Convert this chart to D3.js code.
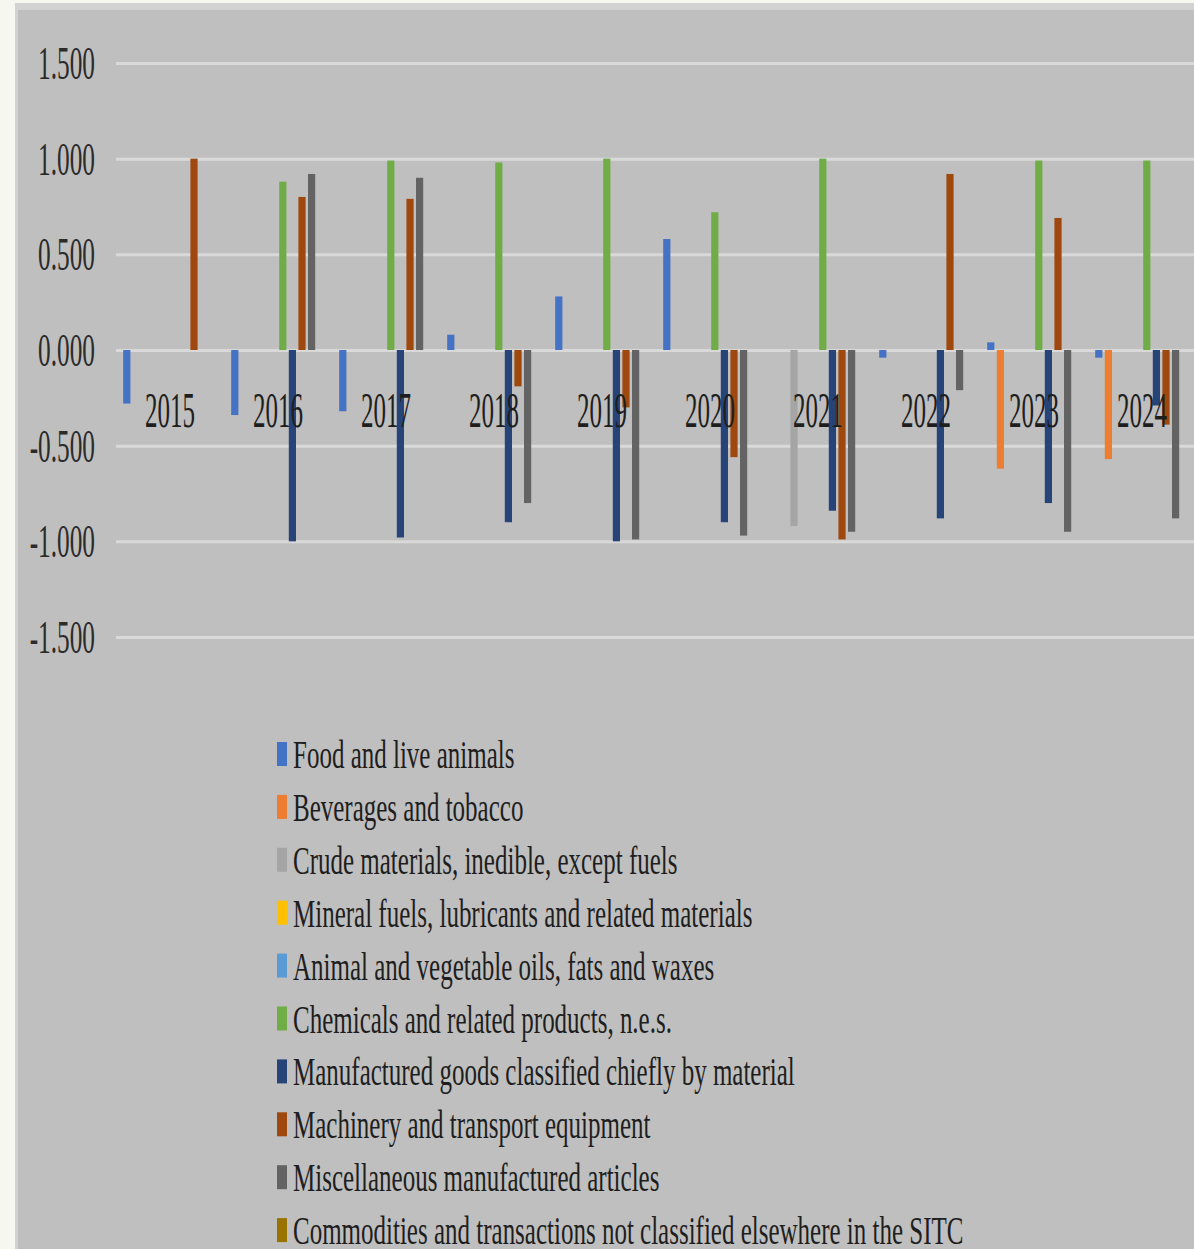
<!DOCTYPE html>
<html>
<head>
<meta charset="utf-8">
<script src="https://cdn.jsdelivr.net/npm/d3@7"></script>
<style>
html,body{margin:0;padding:0;background:#f6f7ee;}
svg{display:block;}
text{font-family:"Liberation Serif","Times New Roman",serif;}
</style>
</head>
<body>
<svg id="chart" width="1194" height="1249"></svg>
<script>
const years = ["2015","2016","2017","2018","2019","2020","2021","2022","2023","2024"];
const seriesNames = [
  "Food and live animals",
  "Beverages and tobacco",
  "Crude materials, inedible, except fuels",
  "Mineral fuels, lubricants and related materials",
  "Animal and vegetable oils, fats and waxes",
  "Chemicals and related products, n.e.s.",
  "Manufactured goods classified chiefly  by material",
  "Machinery and transport equipment",
  "Miscellaneous manufactured articles",
  "Commodities and transactions not classified elsewhere in the SITC"
];
const seriesColors = ["#4472c4","#ed7d31","#a5a5a5","#ffc000","#5b9bd5","#70ad47","#264478","#9e480e","#636363","#997300"];

const food         = [-0.28,-0.34,-0.32, 0.08, 0.28, 0.58, 0.00,-0.04, 0.04,-0.04];
const beverages    = [ 0, 0, 0, 0, 0, 0, 0, 0,-0.62,-0.57];
const crude        = [ 0, 0, 0, 0, 0, 0,-0.92, 0, 0, 0];
const mineral      = [ 0, 0, 0, 0, 0, 0, 0, 0, 0, 0];
const oils         = [ 0, 0, 0, 0, 0, 0, 0, 0, 0, 0];
const chemicals    = [ 0, 0.88, 0.99, 0.98, 1.00, 0.72, 1.00, 0, 0.99, 0.99];
const manufactured = [ 0,-1.00,-0.98,-0.90,-1.00,-0.90,-0.84,-0.88,-0.80,-0.29];
const machinery    = [ 1.00, 0.80, 0.79,-0.19,-0.30,-0.56,-0.99, 0.92, 0.69,-0.39];
const misc         = [ 0, 0.92, 0.90,-0.80,-0.99,-0.97,-0.95,-0.21,-0.95,-0.88];
const commodities  = [ 0, 0, 0, 0, 0, 0, 0, 0, 0, 0];

const yTicks = [-1.5,-1.0,-0.5,0,0.5,1.0,1.5];

const seriesValues = [food,beverages,crude,mineral,oils,chemicals,manufactured,machinery,misc,commodities];
const series = seriesNames.map((n,i)=>({name:n,color:seriesColors[i],values:seriesValues[i]}));

const svg = d3.select("#chart");
const W = 1194, H = 1249;

// backgrounds
svg.append("rect").attr("x",0).attr("y",0).attr("width",W).attr("height",H).attr("fill","#f6f7ee");
svg.append("rect").attr("x",15).attr("y",3).attr("width",W-15).attr("height",H-3).attr("fill","#d2d2d2");
svg.append("rect").attr("x",18).attr("y",10).attr("width",W-18).attr("height",H-10).attr("fill","#bfbfbf");

const plotLeft = 116, plotRight = 1196, plotTop = 63, plotBottom = 637;

const y = d3.scaleLinear().domain([-1.5,1.5]).range([plotBottom,plotTop]);
const x0 = d3.scaleBand().domain(years).range([plotLeft,plotRight]).paddingInner(0.111).paddingOuter(0.0555);
const x1 = d3.scaleBand().domain(d3.range(series.length)).range([0,x0.bandwidth()]).paddingInner(0.25).paddingOuter(0.125);

// gridlines
const grid = svg.append("g").attr("transform",`translate(${plotLeft},0)`)
  .call(d3.axisLeft(y).tickValues(yTicks).tickSize(-(W-plotLeft)).tickFormat(""));
grid.select(".domain").remove();
grid.selectAll(".tick line").attr("stroke","#d9d9d9").attr("stroke-width",3);

// y labels
const fmt = d3.format(".3f");
const yAxis = svg.append("g").attr("transform","translate(95,0)")
  .call(d3.axisLeft(y).tickValues(yTicks).tickSize(0).tickPadding(0).tickFormat(d=>fmt(d).replace("\u2212","-")));
yAxis.select(".domain").remove();
yAxis.selectAll(".tick text")
  .attr("x",0).attr("dy","0.34em")
  .attr("transform","scale(0.55,1)")
  .attr("font-family","Liberation Serif")
  .attr("font-size",46)
  .attr("fill","#2b2b2b");

// bars
const groups = svg.append("g").selectAll("g.year").data(years).join("g")
  .attr("transform",d=>`translate(${x0(d)},0)`);
groups.selectAll("rect").data((d,yi)=>series.map((s,si)=>({si,v:s.values[yi],color:s.color})).filter(e=>e.v!==0))
  .join("rect")
  .attr("x",d=>x1(d.si))
  .attr("width",x1.bandwidth())
  .attr("y",d=>y(Math.max(0,d.v)))
  .attr("height",d=>Math.abs(y(d.v)-y(0)))
  .attr("fill",d=>d.color);

// year labels
svg.append("g").selectAll("text").data(years).join("text")
  .attr("transform",d=>`translate(${x0(d)+x0.bandwidth()/2},427) scale(0.5,1)`)
  .attr("text-anchor","middle")
  .attr("font-size",50)
  .attr("fill","#1e1e1e")
  .text(d=>d);

// legend
const legend = svg.append("g").attr("transform","translate(277,754)");
const li = legend.selectAll("g").data(series).join("g")
  .attr("transform",(d,i)=>`translate(0,${i*52.9})`);
li.append("rect").attr("x",0).attr("y",-12).attr("width",10).attr("height",24).attr("fill",d=>d.color);
li.append("text")
  .attr("transform","translate(16,0) scale(0.625,1)")
  .attr("dy","0.35em")
  .attr("font-size",40)
  .attr("fill","#1e1e1e")
  .text(d=>d.name);
</script>
</body>
</html>
